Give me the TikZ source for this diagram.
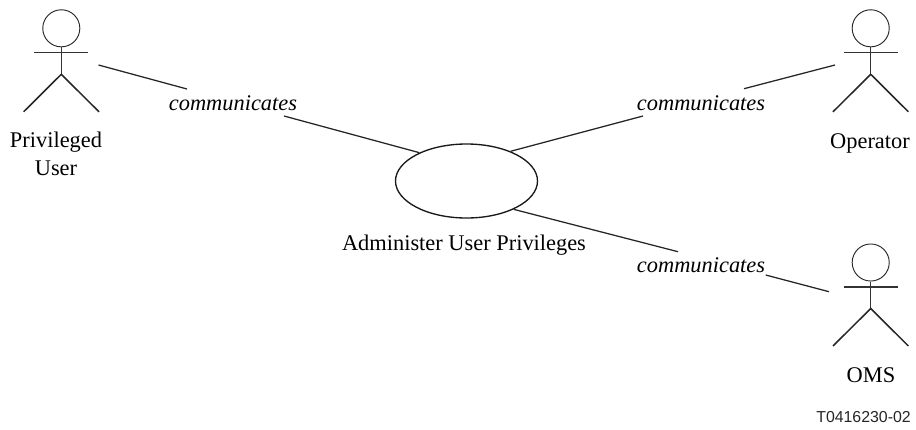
\documentclass[tikz,border=0pt]{standalone}
\usepackage{fontspec}
\setmainfont{Liberation Serif}
\newfontfamily\codefont{Liberation Sans}
\usetikzlibrary{shapes.geometric}
\tikzset{
  wire/.style={line width=0.95pt,black!85},
  limb/.style={line width=1.15pt,black!85},
  thin limb/.style={line width=0.95pt,black!80},
  lbl/.style={anchor=base,inner sep=0pt,font=\fontsize{16.8pt}{19pt}\selectfont},
  commlbl/.style={lbl,font=\fontsize{16.8pt}{19pt}\selectfont\itshape},
  code/.style={anchor=base,inner sep=0pt,font=\fontsize{11.9pt}{14pt}\selectfont\codefont,black!85},
  head/.style={circle,draw,line width=0.7pt,minimum size=27.8pt,inner sep=0pt,black!85},
  usecase/.style={ellipse,draw,line width=1pt,minimum width=106.5pt,minimum height=55.5pt,inner sep=0pt,black!90},
}
\newcommand{\actorfig}[3]{%
  \node[head] (#1head) at (#2,#3) {};
  \coordinate (#1neck) at (#2,#3+18.5);
  \coordinate (#1hip) at (#2,#3+46);
  \coordinate (#1la) at (#2-27,#3+24.5);
  \coordinate (#1ra) at (#2+27,#3+24.5);
  \coordinate (#1lf) at (#2-37.7,#3+83.5);
  \coordinate (#1rf) at (#2+37.7,#3+83.5);
  \draw[thin limb] (#1la) -- (#1ra);
  \draw[thin limb] (#1head.south) -- (#1hip);
  \draw[limb] (#1lf) -- (#1hip) -- (#1rf);
}
\begin{document}
\begin{tikzpicture}[x=0.75pt,y=-0.75pt]
\useasboundingbox (0,0) rectangle (916,429);
\actorfig{pu}{61.3}{28.3}
\actorfig{op}{870.7}{28.3}
\actorfig{om}{870.7}{262.5}
\node[usecase] (uc) at (466.5,181) {};
\node[lbl] (ucl) at (464,250.7) {Administer User Privileges};
\node[lbl] (pul1) at (56,147) {Privileged};
\node[lbl] (pul2) at (56,175) {User};
\node[lbl] (opl) at (870,148.5) {Operator};
\node[lbl] (oml) at (871,382.7) {OMS};
\node[code] (tcode) at (863.5,422) {T0416230-02};
\node[commlbl] (c1) at (233,110.7) {communicates};
\node[commlbl] (c2) at (701,110.7) {communicates};
\node[commlbl] (c3) at (701,272.3) {communicates};
\coordinate (a1) at (98.5,65);
\coordinate (a1t) at (187,89);
\coordinate (u1t) at (284,116);
\coordinate (a2) at (835,65);
\coordinate (a2t) at (744,88.7);
\coordinate (u2t) at (643,116);
\coordinate (a3) at (829,291.7);
\coordinate (a3t) at (765.7,275);
\coordinate (u3t) at (678,251.7);
\draw[wire] (a1) -- (a1t);
\draw[wire] (u1t) -- (uc.149);
\draw[wire] (a2) -- (a2t);
\draw[wire] (u2t) -- (uc.34);
\draw[wire] (a3) -- (a3t);
\draw[wire] (u3t) -- (uc.-31);
\end{tikzpicture}
\end{document}
